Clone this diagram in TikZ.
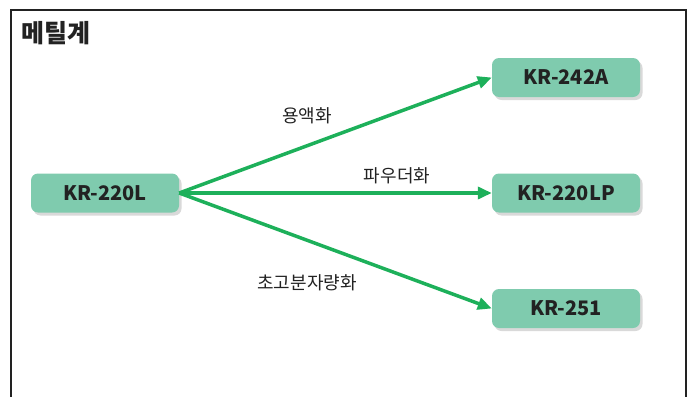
\documentclass[tikz,border=0pt]{standalone}
\usepackage{fontspec}
\newfontfamily\krfont{Noto Sans CJK KR}
\usetikzlibrary{shadows,arrows.meta}
\definecolor{boxgreen}{HTML}{7FCBAE}
\definecolor{arrowgreen}{HTML}{1DB05A}
\definecolor{textdark}{HTML}{222222}
\tikzset{
	grade/.style={draw=none, fill=boxgreen, rounded corners=7pt, minimum width=148pt, minimum height=39pt,
		font=\krfont\bfseries\fontsize{20}{22}\selectfont, text=textdark,
		drop shadow={opacity=0.3, shadow xshift=2.5pt, shadow yshift=-3pt}},
	route/.style={draw=arrowgreen, line width=3.5pt, -{Triangle[length=14pt, width=12pt]}},
	routelabel/.style={font=\krfont\fontsize{18}{20}\selectfont, text=textdark}
}
\begin{document}
\begin{tikzpicture}[x=1pt, y=-1pt]
		\useasboundingbox (0,0) rectangle (695,396);
		\draw[line width=2.5pt, draw=textdark] (11,397) -- (11,10) -- (686,10) -- (686,397);
		\node[font=\krfont\bfseries\fontsize{25}{28}\selectfont, text=textdark] (title) at (56,33) {메틸계};
		\node[grade] (base) at (105,193) {KR-220L};
		\node[grade] (liquid) at (566,77.5) {KR-242A};
		\node[grade] (powder) at (566,193) {KR-220LP};
		\node[grade] (uhmw) at (566,308.5) {KR-251};
		\draw[route] (base.east) -- (liquid.west);
		\draw[route] (base.east) -- (powder.west);
		\draw[route] (base.east) -- (uhmw.west);
		\node[routelabel] (lblliquid) at (307,116) {용액화};
		\node[routelabel] (lblpowder) at (397,176) {파우더화};
		\node[routelabel] (lbluhmw) at (307,283) {초고분자량화};
\end{tikzpicture}
\end{document}
